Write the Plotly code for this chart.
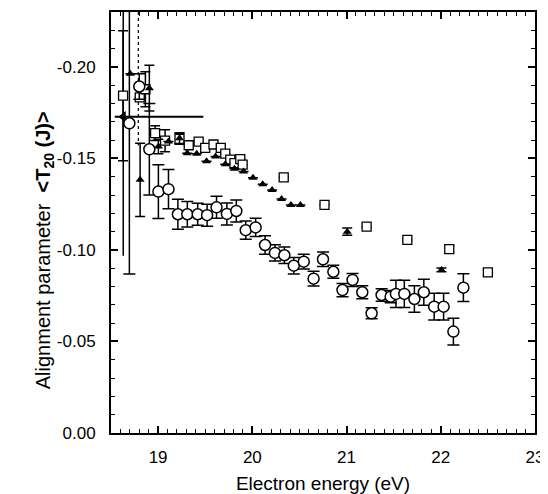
import plotly.graph_objects as go

# Open circles (main series)
circ_x = [18.695, 18.80, 18.907, 19.003, 19.11, 19.21, 19.31, 19.42, 19.52, 19.62, 19.73, 19.83,
          19.93, 20.035, 20.135, 20.24, 20.34, 20.44, 20.546, 20.65, 20.75, 20.86, 20.957, 21.064,
          21.167, 21.266, 21.372, 21.468, 21.524, 21.613, 21.72, 21.82, 21.93, 22.03, 22.134, 22.24]
circ_y = [-0.1692, -0.1893, -0.155, -0.1319, -0.1332, -0.1195, -0.1195, -0.1195, -0.119, -0.1233,
          -0.1197, -0.1213, -0.1108, -0.1123, -0.1027, -0.0984, -0.0971, -0.0914, -0.0936, -0.0843,
          -0.0949, -0.0881, -0.0781, -0.0836, -0.0769, -0.0654, -0.0754, -0.0745, -0.076, -0.076,
          -0.0732, -0.0769, -0.069, -0.069, -0.0554, -0.0794]
circ_err = [0.0824, 0.007, 0.025, 0.0147, 0.0107, 0.0082, 0.007, 0.006, 0.006, 0.006, 0.006, 0.006,
            0.005, 0.005, 0.005, 0.0045, 0.0045, 0.0045, 0.004, 0.004, 0.004, 0.0036, 0.0036, 0.0036,
            0.0036, 0.003, 0.0034, 0.0034, 0.0075, 0.0075, 0.0073, 0.0071, 0.0073, 0.0073, 0.0073, 0.0076]

# Open squares
sq_x = [18.628, 18.805, 18.865, 18.968, 19.074, 19.227, 19.325, 19.43, 19.50, 19.588, 19.665, 19.713,
        19.766, 19.81, 19.872, 19.897, 20.333, 20.766, 21.213, 21.645, 22.09, 22.50]
sq_y = [-0.1843, -0.1834, -0.1878, -0.1638, -0.1597, -0.1607, -0.1572, -0.1592, -0.1558, -0.1576,
        -0.1558, -0.1526, -0.1494, -0.1474, -0.1496, -0.1466, -0.1397, -0.1246, -0.1127, -0.1055,
        -0.1004, -0.0878]
sq_err = [0.0355, 0, 0.0096, 0.004, 0.006, 0.003, 0, 0, 0, 0, 0, 0,
          0, 0, 0, 0, 0, 0, 0, 0, 0.002, 0.002]

# Filled triangles
tri_x = [18.705, 18.809, 18.907, 19.003, 19.11, 19.227, 19.309, 19.41, 19.514, 19.61, 19.713, 19.81,
         19.907, 20.007, 20.11, 20.21, 20.31, 20.41, 20.51, 21.007, 22.007]
tri_y = [-0.1962, -0.1383, -0.1884, -0.1565, -0.1592, -0.161, -0.1528, -0.1526, -0.1485, -0.151,
         -0.1468, -0.1443, -0.1428, -0.1395, -0.1359, -0.1328, -0.1279, -0.1246, -0.1246, -0.110, -0.0891]
tri_err = [0, 0.020, 0.0125, 0.004, 0, 0.003, 0, 0, 0, 0, 0, 0,
           0, 0, 0, 0, 0, 0, 0, 0.002, 0.001]

# Threshold point with horizontal bar
thr_x = [18.63]
thr_y = [-0.1728]
thr_err_y = [0.076]
thr_err_x_plus = [0.85]
thr_err_x_minus = [0.09]

# Dotted vertical guide
guide_x = [18.79, 18.79]
guide_y = [-0.23, -0.157]

# Axis ranges and ticks
x_range = [18.5, 23.0]
y_range = [0.0, -0.23]
x_ticks = [19, 20, 21, 22, 23]
x_labels = ["19", "20", "21", "22", "23"]
y_ticks = [0.0, -0.05, -0.10, -0.15, -0.20]
y_labels = ["0.00", "-0.05", "-0.10", "-0.15", "-0.20"]

FONT = "Liberation Sans, Arial, sans-serif"

fig = go.Figure()

fig.add_trace(go.Scatter(x=guide_x, y=guide_y, mode="lines",
                         line=dict(color="black", width=1.2, dash="dot"), hoverinfo="skip"))

fig.add_trace(go.Scatter(x=thr_x, y=thr_y, mode="markers",
                         marker=dict(symbol="triangle-left", size=10, color="black"),
                         error_y=dict(type="data", array=thr_err_y, color="black", thickness=1.5, width=0),
                         error_x=dict(type="data", symmetric=False, array=thr_err_x_plus,
                                      arrayminus=thr_err_x_minus, color="black", thickness=2, width=0)))

fig.add_trace(go.Scatter(x=sq_x, y=sq_y, mode="markers",
                         marker=dict(symbol="square", size=9, color="white",
                                     line=dict(color="black", width=1.3)),
                         error_y=dict(type="data", array=sq_err, color="black", thickness=1.5, width=5)))

fig.add_trace(go.Scatter(x=tri_x, y=tri_y, mode="markers",
                         marker=dict(symbol="triangle-up", size=8, color="black"),
                         error_y=dict(type="data", array=tri_err, color="black", thickness=1.5, width=5)))

fig.add_trace(go.Scatter(x=circ_x, y=circ_y, mode="markers",
                         marker=dict(symbol="circle", size=11, color="white",
                                     line=dict(color="black", width=1.5)),
                         error_y=dict(type="data", array=circ_err, color="black", thickness=1.5, width=6)))

axis_common = dict(
    ticks="inside", ticklen=7, tickwidth=1.5, tickcolor="black",
    showline=True, linecolor="black", linewidth=2, mirror="allticks",
    showgrid=False, zeroline=False, automargin=False,
)

fig.update_layout(
    width=540, height=486,
    margin=dict(l=103, r=13, t=4, b=61),
    paper_bgcolor="white", plot_bgcolor="white",
    showlegend=False,
    font=dict(family=FONT, color="black", size=17),
    xaxis=dict(
        range=x_range, tickvals=x_ticks, ticktext=x_labels,
        minor=dict(dtick=0.1, ticks="inside", ticklen=4, tickwidth=1.2, tickcolor="black"),
        tickfont=dict(size=17, family=FONT, color="black"), ticklabelstandoff=8,
        title=dict(text="Electron energy (eV)", font=dict(size=19, family=FONT, color="black"), standoff=10),
        **axis_common,
    ),
    yaxis=dict(
        range=y_range, tickvals=y_ticks, ticktext=y_labels,
        minor=dict(dtick=0.01, ticks="inside", ticklen=4, tickwidth=1.2, tickcolor="black"),
        tickfont=dict(size=17, family=FONT, color="black"), ticklabelstandoff=10,
        title=dict(text="Alignment parameter  <b>&lt;T<sub>20</sub> (J)&gt;</b>"
                        + "&nbsp;" * 10,
                   font=dict(size=20, family=FONT, color="black"), standoff=0),
        **axis_common,
    ),
)

fig.write_html("out.html")
